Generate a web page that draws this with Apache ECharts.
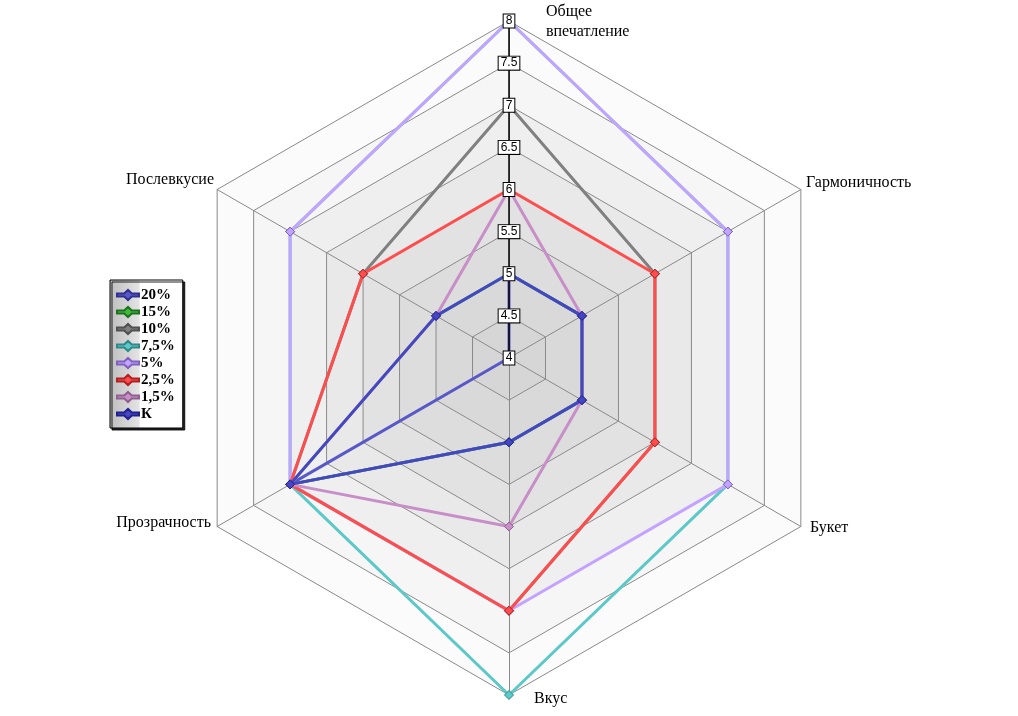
<!DOCTYPE html>
<html><head><meta charset="utf-8">
<script src="https://cdn.jsdelivr.net/npm/echarts@6/dist/echarts.min.js"></script>
<style>html,body{margin:0;padding:0;background:#fff}#c{width:1018px;height:716px}</style>
</head><body><div id="c"></div>
<script>
// Axes in the order ECharts lays them out (counter-clockwise from the top)
const indicators = ['Общее\nвпечатление', 'Послевкусие', 'Прозрачность', 'Вкус', 'Букет', 'Гармоничность'];
const seriesNames = ['20%', '15%', '10%', '7,5%', '5%', '2,5%', '1,5%', 'К'];
const s20  = [5, 4, 7, 5, 5, 5];
const s15  = [5, 5, 7, 5, 5, 5];
const s10  = [7, 6, 7, 7, 6, 6];
const s75  = [8, 7, 7, 8, 7, 7];
const s5   = [8, 7, 7, 7, 7, 7];
const s25  = [6, 6, 7, 7, 6, 6];
const s15b = [6, 5, 7, 6, 5, 5];
const sK   = [5, 5, 7, 5, 5, 5];
const tickLabels = ['4', '4.5', '5', '5.5', '6', '6.5', '7', '7.5', '8'];
const axisMin = 4, axisMax = 8;

const values = [s20, s15, s10, s75, s5, s25, s15b, sK];
const colors = ['#5858c8', '#3cbc3c', '#808080', '#5cc8c8', '#c3a3ff', '#ff4c4c', '#c88ec8', '#4646c4'];
const borders = ['#303090', '#207020', '#505050', '#308888', '#8060c0', '#b02020', '#906090', '#202090'];

const chart = echarts.init(document.getElementById('c'));
const serif = '"Liberation Serif", "DejaVu Serif", serif';
const cx = 509, cy = 358, R = 337;

const labelPos = [
  {x: 546, y: 23, align: 'left'},
  {x: 214, y: 180, align: 'right'},
  {x: 211, y: 523, align: 'right'},
  {x: 534, y: 699, align: 'left'},
  {x: 810, y: 528, align: 'left'},
  {x: 806, y: 183, align: 'left'}
];

const legendIcon = 'path://M0,3.6H7.2L11,0L14.8,3.6H22V6.4H14.8L11,10L7.2,6.4H0Z';

chart.setOption({
  animation: false,
  backgroundColor: '#fff',
  radar: {
    center: [cx, cy],
    radius: R,
    startAngle: 90,
    splitNumber: 8,
    shape: 'polygon',
    indicator: indicators.map(n => ({name: n, min: axisMin, max: axisMax})),
    axisName: {show: false},
    axisLine: {lineStyle: {color: '#8a8a8a', width: 1}},
    splitLine: {lineStyle: {color: '#8a8a8a', width: 1}},
    splitArea: {show: true, areaStyle: {color: ['#d6d6d6', '#d9d9d9', '#dddddd', '#e2e2e2', '#e9e9e9', '#efefef', '#f6f6f6', '#fbfbfb']}},
    axisLabel: {show: false},
    axisTick: {show: false}
  },
  grid: {left: cx, top: cy - R, width: 1, height: R},
  xAxis: {type: 'value', show: false},
  yAxis: {
    type: 'value', min: axisMin, max: axisMax, interval: 0.5, z: 10,
    axisLine: {show: true, lineStyle: {color: '#000', width: 1.5}},
    axisTick: {show: false},
    splitLine: {show: false},
    axisLabel: {
      margin: 0, align: 'center', verticalAlign: 'middle',
      formatter: (v) => tickLabels[Math.round((v - axisMin) / 0.5)],
      backgroundColor: '#fff', borderColor: '#000', borderWidth: 1,
      padding: [1, 2, 0, 2], color: '#000', fontSize: 12,
      fontFamily: '"Liberation Sans", Arial, sans-serif'
    }
  },
  legend: {
    orient: 'vertical', left: 110, top: 280,
    data: seriesNames.map(n => ({name: n, icon: legendIcon})),
    itemWidth: 22, itemHeight: 10, itemGap: 1,
    padding: [7, 8, 6, 6],
    borderColor: '#000', borderWidth: 1,
    backgroundColor: {type: 'linear', x: 0, y: 0, x2: 1, y2: 0,
      colorStops: [{offset: 0, color: '#bdbdbd'}, {offset: 0.4, color: '#e4e4e4'}, {offset: 0.42, color: '#ffffff'}, {offset: 1, color: '#ffffff'}]},
    shadowColor: 'rgba(0,0,0,0.85)', shadowOffsetX: 2, shadowOffsetY: 2, shadowBlur: 0,
    textStyle: {fontFamily: serif, fontWeight: 'bold', fontSize: 15, lineHeight: 16, color: '#000', padding: [0, 0, 0, -3]}
  },
  series: seriesNames.map((name, i) => ({
    type: 'radar',
    name: name,
    symbol: 'diamond',
    symbolSize: 9,
    z: 2 + i * 0.01,
    lineStyle: {color: colors[i], width: 3},
    itemStyle: {color: colors[i], borderColor: borders[i], borderWidth: 1},
    data: [{value: values[i], name: name}]
  })),
  graphic: indicators.map((n, i) => ({
    type: 'text', left: labelPos[i].align === 'left' ? labelPos[i].x : null,
    right: labelPos[i].align === 'right' ? 1018 - labelPos[i].x : null,
    top: labelPos[i].y - (i === 0 ? 21 : 10),
    style: {text: n, font: '16px ' + serif, fill: '#000', lineHeight: 20}
  }))
});
</script>
</body></html>
